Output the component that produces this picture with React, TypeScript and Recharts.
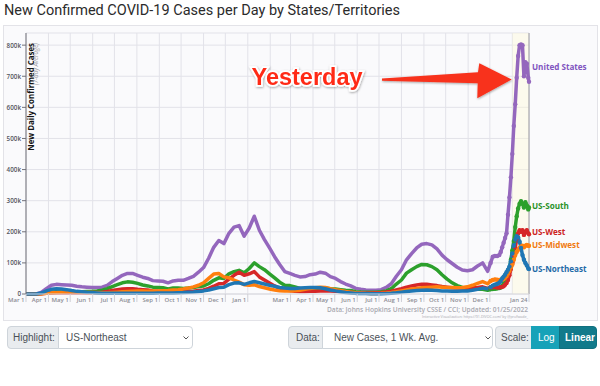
import React from 'react';
import { LineChart, Line, XAxis, YAxis, CartesianGrid, ReferenceArea, ReferenceLine } from 'recharts';

// ---- data (values in thousands of new cases per day, 7-day average) ----
const dates = [
  '2020-03-01', '2020-03-08', '2020-03-15', '2020-03-22', '2020-03-29', '2020-04-05', '2020-04-12', '2020-04-19', '2020-04-26', '2020-05-03',
  '2020-05-10', '2020-05-17', '2020-05-24', '2020-05-31', '2020-06-07', '2020-06-14', '2020-06-21', '2020-06-28', '2020-07-05', '2020-07-12',
  '2020-07-19', '2020-07-26', '2020-08-02', '2020-08-09', '2020-08-16', '2020-08-23', '2020-08-30', '2020-09-06', '2020-09-13', '2020-09-20',
  '2020-09-27', '2020-10-04', '2020-10-11', '2020-10-18', '2020-10-25', '2020-11-01', '2020-11-08', '2020-11-15', '2020-11-22', '2020-11-29',
  '2020-12-06', '2020-12-13', '2020-12-20', '2020-12-27', '2021-01-03', '2021-01-10', '2021-01-17', '2021-01-24', '2021-01-31', '2021-02-07',
  '2021-02-14', '2021-02-21', '2021-02-28', '2021-03-07', '2021-03-14', '2021-03-21', '2021-03-28', '2021-04-04', '2021-04-11', '2021-04-18',
  '2021-04-25', '2021-05-02', '2021-05-09', '2021-05-16', '2021-05-23', '2021-05-30', '2021-06-06', '2021-06-13', '2021-06-20', '2021-06-27',
  '2021-07-04', '2021-07-11', '2021-07-18', '2021-07-25', '2021-08-01', '2021-08-08', '2021-08-15', '2021-08-22', '2021-08-29', '2021-09-05',
  '2021-09-12', '2021-09-19', '2021-09-26', '2021-10-03', '2021-10-10', '2021-10-17', '2021-10-24', '2021-10-31', '2021-11-07', '2021-11-14',
  '2021-11-21', '2021-11-28', '2021-12-02', '2021-12-05', '2021-12-08', '2021-12-11', '2021-12-14', '2021-12-16', '2021-12-18', '2021-12-20',
  '2021-12-22', '2021-12-24', '2021-12-26', '2021-12-28', '2021-12-30', '2022-01-01', '2022-01-03', '2022-01-05', '2022-01-07', '2022-01-09',
  '2022-01-11', '2022-01-13', '2022-01-15', '2022-01-17', '2022-01-19', '2022-01-21', '2022-01-23', '2022-01-24',
];

const unitedStates = [
  0, 0.1, 0.5, 5, 17, 28, 31, 30, 29, 28,
  25, 23, 22, 21, 21, 22, 28, 40, 50, 60,
  66, 66, 60, 54, 50, 43, 42, 41, 36, 42,
  44, 44, 50, 57, 70, 85, 115, 150, 172, 162,
  195, 215, 220, 186, 212, 250, 205, 175, 148, 120,
  95, 72, 66, 60, 55, 56, 62, 64, 70, 67,
  56, 50, 40, 32, 26, 18, 15, 13, 12, 12,
  14, 21, 33, 57, 78, 110, 130, 148, 160, 162,
  158, 145, 125, 110, 98, 86, 77, 75, 78, 90,
  100, 73, 100, 120, 122, 122, 125, 135, 150, 165,
  180, 195, 255, 310, 375, 450, 540, 610, 695, 765,
  800, 802, 800, 700, 745, 740, 695, 682,
];

const usSouth = [
  0, 0.02, 0.2, 1.2, 4, 6, 7, 6.5, 6.5, 7,
  7, 7.5, 8, 8.5, 9.5, 12, 17, 24, 30, 36,
  39, 38, 34, 29, 26, 22, 21, 20, 16, 19,
  19, 18, 19, 21, 24, 26, 33, 44, 52, 50,
  65, 72, 76, 68, 82, 100, 88, 78, 65, 52,
  38, 28, 27, 23, 18, 15, 15, 15, 18, 19,
  17, 16, 14, 12, 11, 7.5, 6.5, 6, 6, 6,
  7, 10, 17, 32, 45, 67, 78, 88, 95, 94,
  88, 78, 62, 48, 36, 27, 21, 18, 16, 15,
  15, 12, 15, 16, 17, 18, 19, 21, 26, 33,
  42, 50, 62, 80, 110, 140, 170, 215, 250, 275,
  290, 298, 290, 278, 295, 285, 272, 278,
];

const usWest = [
  0, 0.05, 0.2, 0.8, 2.5, 3.5, 3.8, 3.8, 4, 4,
  3.8, 3.8, 4, 4.5, 5, 6, 8, 11, 14, 16,
  17, 17, 15, 14, 13, 10, 8.5, 8, 6.5, 7,
  7, 7.5, 8, 9, 11, 13, 18, 25, 33, 34,
  48, 60, 70, 60, 65, 72, 55, 45, 35, 26,
  18, 13, 11, 9, 8, 8, 8.5, 9, 10, 10,
  9.5, 9, 8, 6.5, 5.5, 4, 3.7, 3.5, 3.5, 4,
  4.5, 6.5, 9, 13, 17, 22, 26, 29, 31, 31,
  29, 27, 24, 22, 20, 19, 19, 19, 20, 21,
  23, 18, 21, 22, 22, 21, 21, 22, 23, 25,
  30, 35, 45, 60, 80, 100, 125, 150, 175, 195,
  205, 200, 205, 190, 200, 205, 195, 192,
];

const usMidwest = [
  0, 0.01, 0.1, 0.8, 2.5, 4, 4.5, 5.5, 6.5, 7,
  6.5, 5.5, 5, 4.5, 4, 3.7, 4, 5, 6, 7,
  8, 9, 9.5, 9.5, 9, 9.5, 10, 10.5, 11, 13,
  14, 16, 19, 23, 28, 36, 50, 64, 66, 55,
  52, 45, 38, 30, 28, 30, 24, 20, 16, 13,
  10.5, 9.5, 10, 10.5, 12, 15, 18, 20, 22, 21,
  17, 14, 11, 8, 6, 4, 3, 2.3, 2, 2,
  2.2, 3, 4.5, 7, 10, 13, 16, 18, 20, 21,
  22, 23, 22, 21, 21, 20, 21, 23, 28, 34,
  40, 33, 42, 45, 47, 46, 45, 45, 46, 48,
  52, 57, 65, 75, 85, 95, 110, 125, 135, 142,
  148, 152, 155, 150, 155, 158, 155, 155,
];

const usNortheast = [
  0, 0.05, 0.3, 3, 10, 15, 17, 16, 14, 11,
  8.5, 7, 5.5, 4.5, 3.5, 2.8, 2.3, 2.2, 2.3, 2.5,
  2.8, 2.8, 2.7, 2.6, 2.6, 2.7, 2.9, 3, 3.2, 3.5,
  4, 4.5, 5.5, 6.5, 8, 10, 13, 17, 21, 22,
  30, 35, 36, 31, 36, 40, 36, 32, 28, 25,
  21, 19, 18, 18, 19, 20, 21, 21, 20, 17,
  13, 10, 7.5, 5, 3.5, 2, 1.7, 1.3, 1, 0.9,
  1.1, 1.6, 2.5, 4, 6, 8, 10, 11, 12, 12.5,
  12, 11, 10, 9.5, 9, 9, 9.5, 10, 12, 15,
  19, 17, 22, 27, 30, 32, 36, 42, 50, 56,
  62, 70, 78, 88, 105, 130, 155, 175, 186, 182,
  168, 148, 125, 110, 100, 92, 82, 80,
];

const tickDates = [
  '2020-03-01', '2020-04-01', '2020-05-01', '2020-06-01', '2020-07-01', '2020-08-01', '2020-09-01', '2020-10-01',
  '2020-11-01', '2020-12-01', '2021-01-01', '2021-02-01', '2021-03-01', '2021-04-01', '2021-05-01', '2021-06-01',
  '2021-07-01', '2021-08-01', '2021-09-01', '2021-10-01', '2021-11-01', '2021-12-01', '2022-01-01', '2022-01-24',
];
const tickLabels = [
  'Mar 1', 'Apr 1', 'May 1', 'Jun 1', 'Jul 1', 'Aug 1', 'Sep 1', 'Oct 1',
  'Nov 1', 'Dec 1', 'Jan 1', '', 'Mar 1', 'Apr 1', 'May 1', 'Jun 1',
  'Jul 1', 'Aug 1', 'Sep 1', 'Oct 1', 'Nov 1', 'Dec 1', '', 'Jan 24',
];
const yTicks = [0, 100, 200, 300, 400, 500, 600, 700, 800];

const seriesList = [
  { key: 'us', name: 'United States', values: unitedStates, color: '#9467bd', text: '#8054c0', dy: -15 },
  { key: 'south', name: 'US-South', values: usSouth, color: '#2ca02c', text: '#2a922a', dy: -2 },
  { key: 'west', name: 'US-West', values: usWest, color: '#d62728', text: '#cc2424', dy: -3 },
  { key: 'midwest', name: 'US-Midwest', values: usMidwest, color: '#ff7f0e', text: '#f07b12', dy: -1 },
  { key: 'northeast', name: 'US-Northeast', values: usNortheast, color: '#1f77b4', text: '#1f6aa8', dy: -1 },
];

// ---- derived ----
const dayOf = (s: string) =>
  Math.round((Date.UTC(+s.slice(0, 4), +s.slice(5, 7) - 1, +s.slice(8, 10)) - Date.UTC(2020, 2, 1)) / 86400000);

const tableData = dates.map((d, i) => {
  const row: any = { day: dayOf(d) };
  seriesList.forEach((s) => (row[s.key] = s.values[i]));
  return row;
});
const tickDays = tickDates.map(dayOf);
const lastDay = tickDays[tickDays.length - 1];
const lastIdx = dates.length - 1;
const dotFrom = dayOf('2021-12-02');

const SANS = '"Open Sans", "Noto Sans", sans-serif';

const XTick = (p: any) => {
  const idx = tickDays.indexOf(p.payload.value);
  const label = idx >= 0 ? tickLabels[idx] : '';
  if (!label) return <g />;
  return (
    <g>
      <line x1={p.x} x2={p.x} y1={p.y} y2={p.y + 8} stroke="#cfcfd6" strokeWidth={1} />
      <text x={p.x - 1.5} y={p.y + 8} textAnchor="end" fontFamily={SANS} fontWeight={600} fontSize={6} fill="#8d8d95">
        {label}
      </text>
    </g>
  );
};

const YTick = (p: any) => {
  const v = p.payload.value;
  return (
    <text x={p.x} y={p.y - (v === 0 ? 1 : 0)} textAnchor="end" dominantBaseline="central" fontFamily={SANS} fontWeight={600} fontSize={6.3} fill="#55555c">
      {v === 0 ? '0' : `${v}k`}
    </text>
  );
};

const makeDot = (s: any) => (p: any) => {
  const { cx, cy, index, payload } = p;
  const k = `${s.key}-${index}`;
  if (cx == null || cy == null) return <g key={k} />;
  const parts: any[] = [];
  if (payload && payload.day >= dotFrom) {
    parts.push(<circle key="c" cx={cx} cy={cy} r={2.2} fill={s.color} />);
  }
  if (index === lastIdx) {
    parts.push(
      <text key="t" x={cx + 3} y={cy + s.dy} dominantBaseline="central" fontFamily={SANS} fontWeight={700} fontSize={8.1} fill={s.text}>
        {s.name}
      </text>
    );
  }
  return <g key={k}>{parts}</g>;
};

const boxBase: React.CSSProperties = {
  position: 'absolute',
  top: 326,
  height: 23,
  boxSizing: 'border-box',
  border: '1px solid #ced4da',
  display: 'flex',
  alignItems: 'center',
  fontFamily: '"Liberation Sans", Arial, sans-serif',
  fontSize: 10,
  color: '#495057',
};

const Chevron = ({ x }: { x: number }) => (
  <svg style={{ position: 'absolute', left: x, top: 9 }} width={6} height={4}>
    <polyline points="0.5,0.5 3,3 5.5,0.5" fill="none" stroke="#555" strokeWidth={1} />
  </svg>
);

export default function App() {
  return (
    <div style={{ position: 'absolute', left: 0, top: 0, width: 600, height: 386, background: '#fff', overflow: 'hidden' }}>
      <div
        style={{
          position: 'absolute', left: 4, top: 1, fontFamily: 'Roboto, sans-serif', fontSize: 14.5,
          color: '#2b2b2b', whiteSpace: 'nowrap', lineHeight: '20px',
        }}
      >
        New Confirmed COVID-19 Cases per Day by States/Territories
      </div>
      <div
        style={{
          position: 'absolute', left: 3, top: 25, width: 595, height: 296, boxSizing: 'border-box',
          border: '1px solid #e3e3e8', background: '#fafafc',
        }}
      />
      <div style={{ position: 'absolute', left: 0, top: 0 }}>
        <LineChart width={600} height={386} data={tableData} margin={{ top: 33, right: 71, bottom: 78, left: 0 }}>
          <CartesianGrid stroke="#e2e2e9" strokeWidth={1} />
          <ReferenceArea x1={dayOf('2022-01-01')} x2={lastDay} fill="#fffbd6" fillOpacity={0.4} stroke="none" />
          <XAxis
            dataKey="day"
            type="number"
            domain={[0, lastDay]}
            ticks={tickDays}
            interval={0}
            height={14}
            tickSize={0}
            tickMargin={0}
            axisLine={{ stroke: '#d8d8de' }}
            tickLine={false}
            tick={<XTick />}
          />
          <YAxis
            type="number"
            domain={[0, 839]}
            ticks={yTicks}
            interval={0}
            width={26}
            tickSize={4}
            tickMargin={1}
            axisLine={{ stroke: '#707078' }}
            tickLine={{ stroke: '#707078' }}
            tick={<YTick />}
          />
          <ReferenceLine x={lastDay} stroke="#9a9aa2" strokeWidth={1} />
          {seriesList.map((s) => (
            <Line
              key={s.key}
              type="linear"
              dataKey={s.key}
              stroke={s.color}
              strokeWidth={3.5}
              strokeLinejoin="round"
              dot={makeDot(s)}
              activeDot={false}
              isAnimationActive={false}
            />
          ))}
        </LineChart>
      </div>
      <svg style={{ position: 'absolute', left: 0, top: 0, pointerEvents: 'none' }} width={600} height={386}>
        <defs>
          <filter id="sh" x="-10%" y="-30%" width="120%" height="160%">
            <feDropShadow dx="0.5" dy="1" stdDeviation="1.2" floodColor="#000" floodOpacity="0.35" />
          </filter>
        </defs>
        <text transform="translate(33.5,43) rotate(-90)" textAnchor="end" fontFamily={SANS} fontWeight={700} fontSize={7.9} fill="#151515">
          New Daily Confirmed Cases
        </text>
        <text transform="translate(37.8,43) rotate(-90)" textAnchor="end" fontFamily={SANS} fontStyle="italic" fontSize={6.2} fill="#9a9aa2">
          (7-day Average)
        </text>
        <text
          x={251.5} y={85} fontFamily='"Liberation Sans", Arial, sans-serif' fontWeight={700} fontSize={23.5}
          fill="#ff2c17" stroke="#fff" strokeWidth={3.5} paintOrder="stroke" filter="url(#sh)"
        >
          Yesterday
        </text>
        <polygon
          points="382,78.6 478,72.3 479.3,63.3 511.7,79.6 477.3,98.3 477.7,83.3 382,80.8"
          fill="#f8301c" filter="url(#sh)"
        />
        <text x={528} y={311.5} textAnchor="end" fontFamily={SANS} fontWeight={600} fontSize={6.6} fill="#a8a8b0">
          Data: Johns Hopkins University CSSE / CCI; Updated: 01/25/2022
        </text>
        <text x={528} y={317.5} textAnchor="end" fontFamily={SANS} fontSize={3.6} fill="#a8a8b0">
          Interactive Visualization: https://91-DIVOC.com/ by @profwade_
        </text>
      </svg>
      {/* controls */}
      <div style={{ ...boxBase, left: 7, width: 52, background: '#e9ecef', borderRadius: '4px 0 0 4px', paddingLeft: 5 }}>Highlight:</div>
      <div style={{ ...boxBase, left: 58, width: 135, background: '#fff', borderRadius: '0 4px 4px 0', paddingLeft: 7 }}>
        US-Northeast
        <Chevron x={124} />
      </div>
      <div style={{ ...boxBase, left: 288, width: 35, background: '#e9ecef', borderRadius: '4px 0 0 4px', paddingLeft: 7 }}>Data:</div>
      <div style={{ ...boxBase, left: 322, width: 171, background: '#fff', borderRadius: '0 4px 4px 0', paddingLeft: 11 }}>
        New Cases, 1 Wk. Avg.
        <Chevron x={162} />
      </div>
      <div style={{ ...boxBase, left: 495, width: 37, background: '#e9ecef', borderRadius: '4px 0 0 4px', paddingLeft: 5 }}>Scale:</div>
      <div style={{ ...boxBase, left: 531, width: 29, background: '#17a2b8', border: '1px solid #17a2b8', color: '#fff', paddingLeft: 6 }}>Log</div>
      <div style={{ ...boxBase, left: 559, width: 38, background: '#117a8b', border: '1px solid #10707f', color: '#fff', borderRadius: '0 4px 4px 0', paddingLeft: 5, fontWeight: 700 }}>
        Linear
      </div>
    </div>
  );
}
